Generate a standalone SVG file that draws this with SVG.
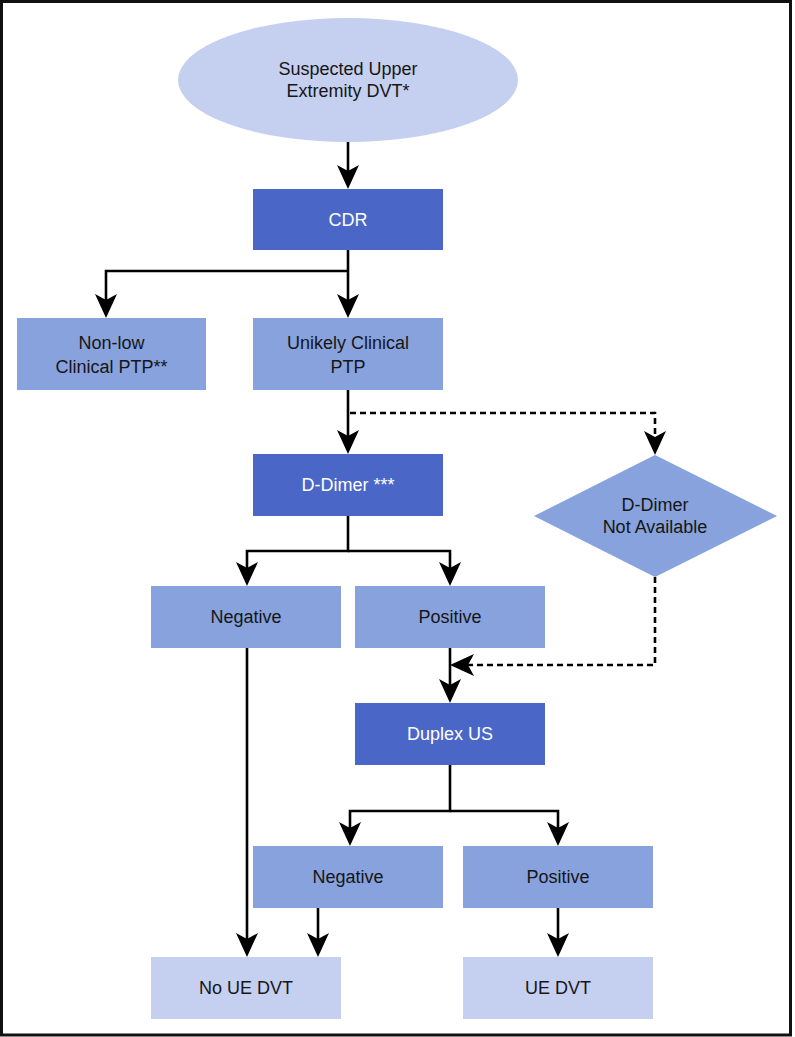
<svg xmlns="http://www.w3.org/2000/svg" width="795" height="1037" viewBox="0 0 795 1037">
<style>
.t{font-family:"Liberation Sans",Arial,sans-serif;font-size:18px;text-anchor:middle;fill:#161616}
.w{fill:#ffffff}
.dark{fill:#4a67c7}
.mid{fill:#87a2dd}
.light{fill:#c5cff0}
.c{fill:none;stroke:#000;stroke-width:2.6}
.d{stroke-dasharray:6 4}
</style>
<defs>
<marker id="ah" viewBox="0 0 24 22" markerWidth="24" markerHeight="22" refX="8" refY="11" orient="auto" markerUnits="userSpaceOnUse">
<path d="M24,11 Q12,5.5 0,0 L6,11 L0,22 Q12,16.5 24,11 Z" fill="#000"/>
</marker>
</defs>
<rect x="1.5" y="1.5" width="789" height="1033.5" fill="#fff" stroke="#111" stroke-width="3"/>
<g id="connectors">
<path class="c" d="M348,142 V173" marker-end="url(#ah)"/>
<path class="c" d="M348,250 V302" marker-end="url(#ah)"/>
<path class="c" d="M348,271 H106 V302" marker-end="url(#ah)"/>
<path class="c" d="M348,390 V438" marker-end="url(#ah)"/>
<path class="c d" d="M350,413 H655 V439" marker-end="url(#ah)"/>
<path class="c" d="M348,516 V551 H247 V570" marker-end="url(#ah)"/>
<path class="c" d="M348,551 H450 V570" marker-end="url(#ah)"/>
<path class="c" d="M450,648 V687" marker-end="url(#ah)"/>
<path class="c d" d="M655,577 V665 H466" marker-end="url(#ah)"/>
<path class="c" d="M450,765 V811 H350 V830" marker-end="url(#ah)"/>
<path class="c" d="M450,811 H558 V830" marker-end="url(#ah)"/>
<path class="c" d="M247,648 V941" marker-end="url(#ah)"/>
<path class="c" d="M318,908 V941" marker-end="url(#ah)"/>
<path class="c" d="M558,908 V941" marker-end="url(#ah)"/>
</g>
<g id="start">
<ellipse class="light" cx="348" cy="80" rx="170" ry="62"/>
<text class="t" x="348" y="75">Suspected Upper</text>
<text class="t" x="348" y="97">Extremity DVT*</text>
</g>
<g id="cdr">
<rect class="dark" x="253" y="189" width="190" height="61"/>
<text class="t w" x="348" y="226">CDR</text>
</g>
<g id="nonlow">
<rect class="mid" x="17" y="318" width="189" height="72"/>
<text class="t" x="111.5" y="349">Non-low</text>
<text class="t" x="111.5" y="373">Clinical PTP**</text>
</g>
<g id="unlikely">
<rect class="mid" x="253" y="318" width="190" height="72"/>
<text class="t" x="348" y="349">Unikely Clinical</text>
<text class="t" x="348" y="373">PTP</text>
</g>
<g id="ddimer">
<rect class="dark" x="253" y="454" width="190" height="62"/>
<text class="t w" x="348" y="491">D-Dimer ***</text>
</g>
<g id="notavail">
<polygon class="mid" points="655,455 777,516 655,577 534,516"/>
<text class="t" x="655" y="511">D-Dimer</text>
<text class="t" x="655" y="533">Not Available</text>
</g>
<g id="neg1">
<rect class="mid" x="151" y="586" width="190" height="62"/>
<text class="t" x="246" y="623">Negative</text>
</g>
<g id="pos1">
<rect class="mid" x="355" y="586" width="190" height="62"/>
<text class="t" x="450" y="623">Positive</text>
</g>
<g id="duplex">
<rect class="dark" x="355" y="703" width="190" height="62"/>
<text class="t w" x="450" y="740">Duplex US</text>
</g>
<g id="neg2">
<rect class="mid" x="253" y="846" width="190" height="62"/>
<text class="t" x="348" y="883">Negative</text>
</g>
<g id="pos2">
<rect class="mid" x="463" y="846" width="190" height="62"/>
<text class="t" x="558" y="883">Positive</text>
</g>
<g id="noue">
<rect class="light" x="151" y="957" width="190" height="62"/>
<text class="t" x="246" y="994">No UE DVT</text>
</g>
<g id="ue">
<rect class="light" x="463" y="957" width="190" height="62"/>
<text class="t" x="558" y="994">UE DVT</text>
</g>
</svg>
